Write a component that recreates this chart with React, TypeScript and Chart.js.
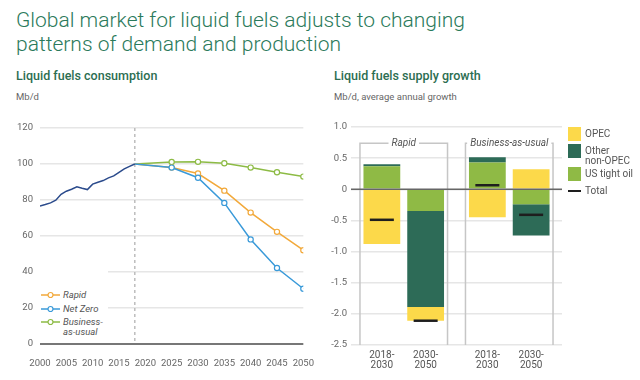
import React, { useEffect, useRef } from 'react';
import { Chart, registerables } from 'chart.js';

Chart.register(...registerables);

// ---------- Left chart data: liquid fuels consumption (Mb/d) ----------
const histYears = [2000, 2001, 2002, 2003, 2004, 2005, 2006, 2007, 2008, 2009, 2010, 2011, 2012, 2013, 2014, 2015, 2016, 2017, 2018];
const histConsumption = [76.7, 77.5, 78.4, 79.9, 83.2, 84.9, 86.0, 87.3, 86.5, 85.8, 88.8, 89.9, 90.8, 92.3, 93.4, 95.4, 97.3, 98.7, 100.0];
const scenarioYears = [2018, 2025, 2030, 2035, 2040, 2045, 2050];
const rapidConsumption = [100, 98.0, 94.7, 85.2, 73.0, 62.3, 52.1];
const netZeroConsumption = [100, 98.0, 92.4, 78.4, 58.1, 42.2, 30.7];
const bauConsumption = [100, 101.1, 101.2, 100.4, 98.0, 95.4, 93.0];
const consumptionTicks = [0, 20, 40, 60, 80, 100, 120];
const yearTicks = [2000, 2005, 2010, 2015, 2020, 2025, 2030, 2035, 2040, 2045, 2050];
const leftLegend = ['Rapid', 'Net Zero', 'Business-\nas-usual'];

// ---------- Right chart data: liquid fuels supply growth (Mb/d per year) ----------
const scenarios = ['Rapid', 'Business-as-usual'];
const periods = ['2018-2030', '2030-2050'];
const opec2018_2030 = [-0.88, -0.45];
const otherNonOpec2018_2030 = [0.03, 0.085];
const usTightOil2018_2030 = [0.37, 0.43];
const total2018_2030 = [-0.49, 0.065];
const opec2030_2050 = [-0.22, 0.32];
const otherNonOpec2030_2050 = [-1.54, -0.5];
const usTightOil2030_2050 = [-0.35, -0.24];
const total2030_2050 = [-2.11, -0.41];
const growthTicks = [-2.5, -2.0, -1.5, -1.0, -0.5, 0, 0.5, 1.0];
const rightLegend = ['OPEC', 'Other\nnon-OPEC', 'US tight oil', 'Total'];

// ---------- Styles ----------
const FONT = 'Roboto, "Liberation Sans", sans-serif';
const C_HIST = '#2b4b8c';
const C_RAPID = '#f2a93b';
const C_NETZERO = '#3a9ad9';
const C_BAU = '#8dbb45';
const C_OPEC = '#fcd94a';
const C_OTHER = '#2d6b57';
const C_US = '#8fba45';
const TITLE_GREEN = '#2b7a5b';
const SUB_GREEN = '#2c6e51';
const TICK_COLOR = '#666';
const GROUP_BOX_TOP = 0.74;

function ConsumptionChart() {
  const ref = useRef<HTMLCanvasElement | null>(null);
  useEffect(() => {
    if (!ref.current) return;
    const baseYear = histYears[histYears.length - 1];
    const dashPlugin = {
      id: 'baseYearLine',
      beforeDatasetsDraw(chart: any) {
        const { ctx, chartArea, scales } = chart;
        const x = scales.x.getPixelForValue(baseYear);
        ctx.save();
        ctx.strokeStyle = '#bdbdbd';
        ctx.lineWidth = 1.5;
        ctx.setLineDash([3, 3]);
        ctx.beginPath();
        ctx.moveTo(x, chartArea.top);
        ctx.lineTo(x, chartArea.bottom);
        ctx.stroke();
        ctx.restore();
      },
    };
    const pts = (xs: number[], ys: number[]) => xs.map((x, i) => ({ x, y: ys[i] }));
    const scen = (label: string, data: number[], color: string) => ({
      label,
      data: pts(scenarioYears, data),
      borderColor: color,
      backgroundColor: '#fff',
      borderWidth: 1.5,
      pointRadius: (c: any) => (c.dataIndex === 0 ? 0 : 2.6),
      pointBorderWidth: 1.2,
      pointBackgroundColor: '#fff',
      pointBorderColor: color,
      tension: 0,
    });
    const chart = new Chart(ref.current, {
      type: 'line',
      data: {
        datasets: [
          { label: 'History', data: pts(histYears, histConsumption), borderColor: C_HIST, borderWidth: 1.5, pointRadius: 0, tension: 0 },
          scen('Net Zero', netZeroConsumption, C_NETZERO),
          scen('Rapid', rapidConsumption, C_RAPID),
          scen('Business-as-usual', bauConsumption, C_BAU),
        ] as any,
      },
      options: {
        responsive: false,
        animation: false,
        layout: { padding: { top: 18, right: 15, left: 0, bottom: 0 } },
        plugins: { legend: { display: false }, tooltip: { enabled: false } },
        scales: {
          x: {
            type: 'linear',
            min: yearTicks[0],
            max: yearTicks[yearTicks.length - 1],
            afterBuildTicks: (s: any) => { s.ticks = yearTicks.map((v) => ({ value: v })); },
            afterFit: (s: any) => { s.height = 36; },
            grid: { display: false },
            border: { display: false },
            ticks: {
              callback: (v: any) => String(v),
              font: { family: FONT, size: 9.5 },
              color: TICK_COLOR,
              padding: 6,
              maxRotation: 0,
              autoSkip: false,
            },
          },
          y: {
            min: consumptionTicks[0],
            max: consumptionTicks[consumptionTicks.length - 1],
            afterBuildTicks: (s: any) => { s.ticks = consumptionTicks.map((v) => ({ value: v })); },
            afterFit: (s: any) => { s.width = 40; },
            border: { display: false },
            grid: {
              drawTicks: false,
              color: (c: any) => (c.tick && c.tick.value === 0 ? '#777' : '#e6e6e6'),
              lineWidth: (c: any) => (c.tick && c.tick.value === 0 ? 2 : 1.5),
            },
            ticks: { font: { family: FONT, size: 9.5 }, color: TICK_COLOR, padding: 7 },
          },
        },
      } as any,
      plugins: [dashPlugin],
    });
    return () => chart.destroy();
  }, []);
  return <canvas ref={ref} width={320} height={270} style={{ position: 'absolute', left: 0, top: 110, width: 320, height: 270 }} />;
}

function SupplyChart() {
  const ref = useRef<HTMLCanvasElement | null>(null);
  useEffect(() => {
    if (!ref.current) return;
    const periodTotals = [total2018_2030, total2030_2050];
    const extras = {
      id: 'supplyExtras',
      beforeDatasetsDraw(chart: any) {
        const { ctx, chartArea, scales } = chart;
        const first = chart.getDatasetMeta(0);
        const last = chart.getDatasetMeta(3);
        const top = scales.y.getPixelForValue(GROUP_BOX_TOP);
        scenarios.forEach((name, i) => {
          const b0 = first.data[i] as any;
          const b1 = last.data[i] as any;
          const left = b0.x - b0.width / 2 - 3.5;
          const right = b1.x + b1.width / 2 + 3.5;
          ctx.save();
          ctx.strokeStyle = '#c6c6c6';
          ctx.lineWidth = 1.5;
          ctx.beginPath();
          ctx.moveTo(left, chartArea.bottom);
          ctx.lineTo(left, top);
          ctx.lineTo(right, top);
          ctx.lineTo(right, chartArea.bottom);
          ctx.stroke();
          ctx.font = `italic 10px ${FONT}`;
          const w = ctx.measureText(name).width;
          const cx = (left + right) / 2;
          ctx.fillStyle = '#fff';
          ctx.fillRect(cx - w / 2 - 3, top - 4, w + 6, 8);
          ctx.fillStyle = '#555';
          ctx.textAlign = 'center';
          ctx.textBaseline = 'middle';
          ctx.fillText(name, cx, top + 0.5);
          ctx.restore();
        });
      },
      afterDatasetsDraw(chart: any) {
        const { ctx, chartArea, scales } = chart;
        const y0 = scales.y.getPixelForValue(0);
        ctx.save();
        ctx.strokeStyle = '#666';
        ctx.lineWidth = 1.5;
        ctx.beginPath();
        ctx.moveTo(chartArea.left, y0);
        ctx.lineTo(chartArea.right, y0);
        ctx.stroke();
        periodTotals.forEach((totals, p) => {
          const meta = chart.getDatasetMeta(p * 3);
          totals.forEach((t, i) => {
            const bar = meta.data[i] as any;
            const yy = scales.y.getPixelForValue(t);
            ctx.strokeStyle = '#1e1e1e';
            ctx.lineWidth = 2.5;
            ctx.beginPath();
            ctx.moveTo(bar.x - 12, yy);
            ctx.lineTo(bar.x + 12, yy);
            ctx.stroke();
          });
        });
        ctx.restore();
      },
      afterDraw(chart: any) {
        const { ctx, chartArea } = chart;
        ctx.save();
        ctx.font = `10px ${FONT}`;
        ctx.fillStyle = '#555';
        ctx.textAlign = 'center';
        ctx.textBaseline = 'middle';
        periods.forEach((period, p) => {
          const [a, b] = period.split('-');
          const meta = chart.getDatasetMeta(p * 3);
          meta.data.forEach((bar: any) => {
            ctx.fillText(a + '-', bar.x, chartArea.bottom + 10.5);
            ctx.fillText(b, bar.x, chartArea.bottom + 20.5);
          });
        });
        ctx.restore();
      },
    };
    const bar = (label: string, data: number[], color: string, stack: string) => ({
      label,
      data,
      backgroundColor: color,
      borderWidth: 0,
      stack,
      barPercentage: 0.84,
      categoryPercentage: 0.83,
    });
    const chart = new Chart(ref.current, {
      type: 'bar',
      data: {
        labels: scenarios,
        datasets: [
          bar('US tight oil', usTightOil2018_2030, C_US, 'p0'),
          bar('Other non-OPEC', otherNonOpec2018_2030, C_OTHER, 'p0'),
          bar('OPEC', opec2018_2030, C_OPEC, 'p0'),
          bar('US tight oil', usTightOil2030_2050, C_US, 'p1'),
          bar('Other non-OPEC', otherNonOpec2030_2050, C_OTHER, 'p1'),
          bar('OPEC', opec2030_2050, C_OPEC, 'p1'),
        ],
      },
      options: {
        responsive: false,
        animation: false,
        layout: { padding: { top: 17, right: 8, left: 0, bottom: 0 } },
        plugins: { legend: { display: false }, tooltip: { enabled: false } },
        scales: {
          x: {
            stacked: true,
            grid: { display: false },
            border: { display: false },
            ticks: { display: false },
            afterFit: (s: any) => { s.height = 35; },
          },
          y: {
            stacked: true,
            min: growthTicks[0],
            max: growthTicks[growthTicks.length - 1],
            afterBuildTicks: (s: any) => { s.ticks = growthTicks.map((v) => ({ value: v })); },
            afterFit: (s: any) => { s.width = 31; },
            border: { display: false },
            grid: { drawTicks: false, color: '#e6e6e6', lineWidth: 1.5 },
            ticks: {
              callback: (v: any) => (v === 0 ? '0' : Number(v).toFixed(1)),
              font: { family: FONT, size: 9.5 },
              color: TICK_COLOR,
              padding: 4,
            },
          },
        },
      } as any,
      plugins: [extras],
    });
    return () => chart.destroy();
  }, []);
  return <canvas ref={ref} width={250} height={270} style={{ position: 'absolute', left: 320, top: 110, width: 250, height: 270 }} />;
}

function LineMarker({ color }: { color: string }) {
  return (
    <svg width={20} height={8} style={{ position: 'absolute', left: 0, top: 0 }}>
      <line x1={0} y1={4} x2={19} y2={4} stroke={color} strokeWidth={1.5} />
      <circle cx={9.5} cy={4} r={2.5} fill="#fff" stroke={color} strokeWidth={1.2} />
    </svg>
  );
}

export default function App() {
  const legendText: React.CSSProperties = { position: 'absolute', fontSize: 9.5, fontStyle: 'italic', color: '#555', lineHeight: '10px', whiteSpace: 'pre' };
  const rText: React.CSSProperties = { position: 'absolute', left: 585, fontSize: 10, color: '#555', lineHeight: '10px', whiteSpace: 'pre' };
  const leftColors = [C_RAPID, C_NETZERO, C_BAU];
  const leftY = [294.7, 309, 322];
  return (
    <div style={{ position: 'absolute', left: 0, top: 0, width: 640, height: 380, background: '#fff', overflow: 'hidden', fontFamily: FONT }}>
      <div style={{ position: 'absolute', left: 16, top: 7.5, fontSize: 21, fontWeight: 300, lineHeight: '24.5px', color: TITLE_GREEN, whiteSpace: 'nowrap' }}>
        Global market for liquid fuels adjusts to changing
        <br />
        patterns of demand and production
      </div>
      <div style={{ position: 'absolute', left: 16, top: 68, fontSize: 12.5, fontWeight: 500, lineHeight: '15px', color: SUB_GREEN, whiteSpace: 'nowrap' }}>Liquid fuels consumption</div>
      <div style={{ position: 'absolute', left: 16, top: 91, fontSize: 9.5, lineHeight: '12px', color: '#666' }}>Mb/d</div>
      <div style={{ position: 'absolute', left: 334, top: 68, fontSize: 12.5, fontWeight: 500, lineHeight: '15px', color: SUB_GREEN, whiteSpace: 'nowrap' }}>Liquid fuels supply growth</div>
      <div style={{ position: 'absolute', left: 334, top: 91, fontSize: 9.5, lineHeight: '12px', color: '#666', whiteSpace: 'nowrap' }}>Mb/d, average annual growth</div>

      <ConsumptionChart />
      <SupplyChart />

      {/* left legend */}
      <div style={{ position: 'absolute', left: 39, top: 262, width: 69, height: 78, background: '#fff' }} />
      {leftLegend.map((lab, i) => (
        <React.Fragment key={lab}>
          <div style={{ position: 'absolute', left: 41, top: leftY[i] - 4, width: 20, height: 8 }}>
            <LineMarker color={leftColors[i]} />
          </div>
          <div style={{ ...legendText, left: 63, top: leftY[i] - 5 }}>{lab}</div>
        </React.Fragment>
      ))}

      {/* right legend */}
      <div style={{ position: 'absolute', left: 568, top: 127, width: 13, height: 14, background: C_OPEC }} />
      <div style={{ ...rText, top: 129 }}>{rightLegend[0]}</div>
      <div style={{ position: 'absolute', left: 568, top: 144, width: 13, height: 13.5, background: C_OTHER }} />
      <div style={{ ...rText, top: 146, lineHeight: '9.5px' }}>{rightLegend[1]}</div>
      <div style={{ position: 'absolute', left: 568, top: 167, width: 13, height: 14, background: C_US }} />
      <div style={{ ...rText, top: 169 }}>{rightLegend[2]}</div>
      <div style={{ position: 'absolute', left: 568, top: 189.75, width: 13, height: 2.5, background: '#1e1e1e' }} />
      <div style={{ ...rText, top: 186 }}>{rightLegend[3]}</div>
    </div>
  );
}
